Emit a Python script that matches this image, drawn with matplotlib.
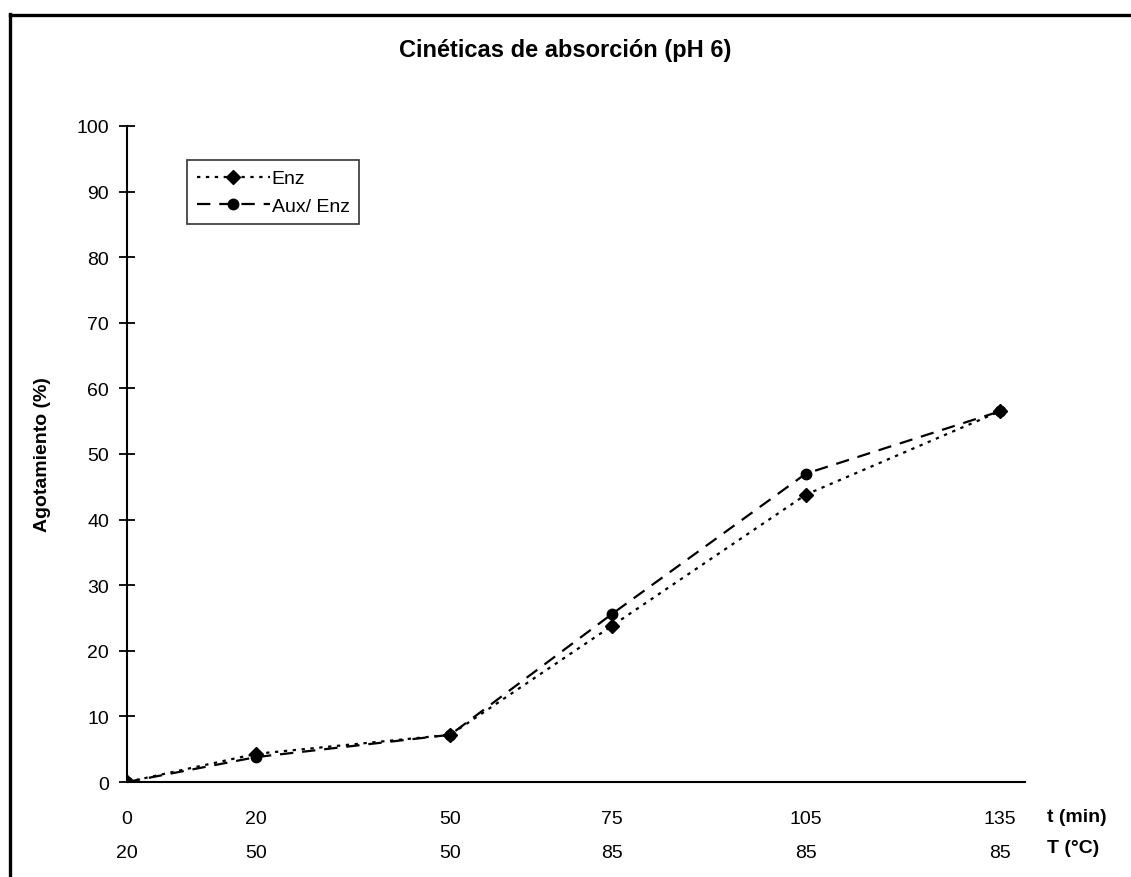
import matplotlib.pyplot as plt
from matplotlib.lines import Line2D

plt.rcParams['font.family'] = ['Liberation Sans', 'DejaVu Sans']

# datos
t_min = [0, 20, 50, 75, 105, 135]
temp_c = [20, 50, 50, 85, 85, 85]
enz = [0, 4.3, 7.2, 23.8, 43.8, 56.5]
aux_enz = [0, 3.8, 7.2, 25.6, 47.0, 56.5]

fig = plt.figure(figsize=(11.31, 8.78), dpi=100)
ax = fig.add_axes([0.1123, 0.1082, 0.794, 0.7472])

ax.plot(t_min, enz, color='black', lw=1.6, linestyle=(0, (1.5, 2.5)),
        marker='D', markersize=7.5, label='Enz')
ax.plot(t_min, aux_enz, color='black', lw=1.6, linestyle=(0, (6, 4)),
        marker='o', markersize=7.5, label='Aux/ Enz')

ax.set_xlim(0, 138.9)
ax.set_ylim(0, 100)
ax.set_yticks(range(0, 101, 10))
ax.set_xticks([])
ax.spines['top'].set_visible(False)
ax.spines['right'].set_visible(False)
ax.spines['left'].set_linewidth(1.5)
ax.spines['bottom'].set_linewidth(1.5)
ax.tick_params(axis='y', direction='inout', length=12, width=1.3, labelsize=14, pad=7)
ax.set_ylabel('Agotamiento (%)', fontsize=14, fontweight='bold')
ax.yaxis.set_label_coords(-0.085, 0.5)

# dos filas de etiquetas en el eje x
trans = ax.get_xaxis_transform()
for t, T in zip(t_min, temp_c):
    ax.text(t, -0.055, str(t), transform=trans, ha='center', va='center', fontsize=14)
    ax.text(t, -0.107, str(T), transform=trans, ha='center', va='center', fontsize=14)
ax.text(1.0245, -0.052, 't (min)', transform=ax.transAxes, ha='left', va='center',
        fontsize=14, fontweight='bold')
ax.text(1.0245, -0.1, 'T (°C)', transform=ax.transAxes, ha='left', va='center',
        fontsize=14, fontweight='bold')

fig.text(0.5, 0.943, 'Cinéticas de absorción (pH 6)', ha='center', va='center',
         fontsize=17, fontweight='bold')

leg = ax.legend(loc='upper left', bbox_to_anchor=(0.067, 0.948), fontsize=14,
                frameon=True, fancybox=False, edgecolor='black', handlelength=3.75,
                handletextpad=0.1, borderpad=0.5, labelspacing=0.5, borderaxespad=0)
leg.get_frame().set_linewidth(1.2)

# marco exterior (solo izquierda y arriba visibles)
fig.add_artist(Line2D([9.5 / 1131, 9.5 / 1131], [0, 1 - 15 / 878], color='black',
                      lw=2.4, transform=fig.transFigure, solid_capstyle='projecting'))
fig.add_artist(Line2D([9.5 / 1131, 1], [1 - 16 / 878, 1 - 16 / 878], color='black',
                      lw=2.4, transform=fig.transFigure, solid_capstyle='projecting'))

fig.savefig('out.png', dpi=100)
